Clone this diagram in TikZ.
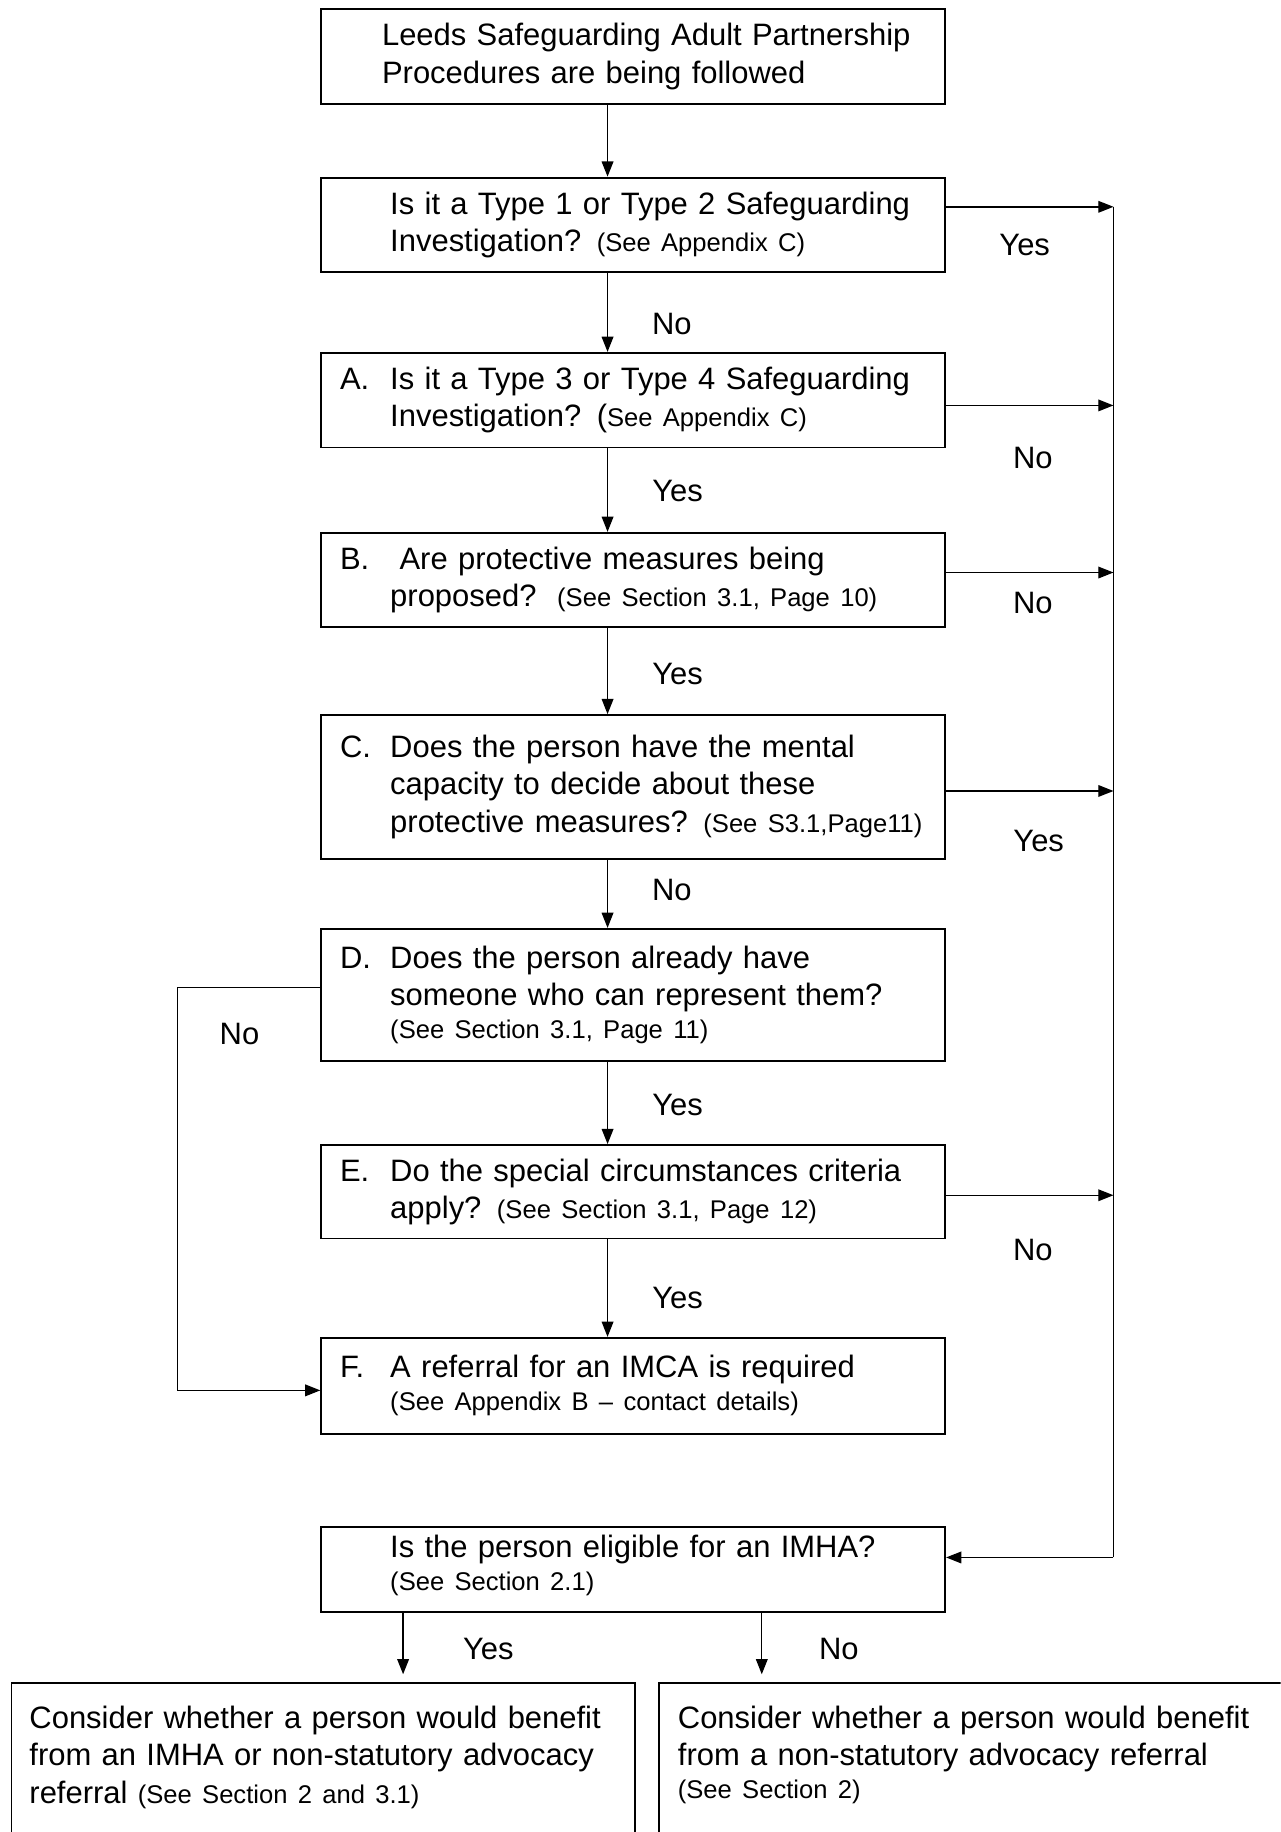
\documentclass[tikz,border=0pt]{standalone}
\usepackage{fontspec}
\setmainfont{Liberation Sans}
\usetikzlibrary{arrows.meta}
\newcommand\ind{\hspace*{57pt}}
\newcommand\lab[1]{\hspace*{14pt}\makebox[43pt][l]{#1}}
\newcommand\sm[1]{{\fontsize{21.9}{32}\selectfont #1}}
\begin{document}
\begin{tikzpicture}[x=1pt,y=-1pt,
  big/.style={font=\fontsize{26.5}{32}\selectfont},
  box/.style={big, draw, line width=1.6pt, rectangle, minimum width=534pt,
    text width=530pt, inner xsep=2pt, inner ysep=0pt, align=left},
  arr/.style={line width=1.2pt, -{Triangle[length=13pt,width=10pt]}},
  ln/.style={line width=1.2pt},
  lbl/.style={big, inner sep=0pt}]
\useasboundingbox (0,0) rectangle (1096,1568);

\node[box, minimum height=81pt] (top) at (542,48.5)
  {\hspace*{50pt}Leeds Safeguarding Adult Partnership\\ \hspace*{50pt}Procedures are being followed};
\node[box, minimum height=81pt] (q1) at (542,192.5)
  {\ind Is it a Type 1 or Type 2 Safeguarding\\ \ind Investigation? \sm{(See Appendix C)}};
\node[box, minimum height=81pt] (qa) at (542,342.5)
  {\lab{A.}Is it a Type 3 or Type 4 Safeguarding\\ \ind Investigation? (\sm{See Appendix C)}};
\node[box, minimum height=81pt] (qb) at (542,496.5)
  {\lab{B.}\hspace*{8pt}Are protective measures being\\ \ind proposed?\ \ \sm{(See Section 3.1, Page 10)}};
\node[box, minimum height=123pt] (qc) at (542,673.5)
  {\lab{C.}Does the person have the mental\\ \ind capacity to decide about these\\ \ind protective measures? \sm{(See S3.1,Page11)}};
\node[box, minimum height=113pt] (qd) at (542,851.5)
  {\lab{D.}Does the person already have\\ \ind someone who can represent them?\\[-4pt] \ind\sm{(See Section 3.1, Page 11)}};
\node[box, minimum height=80pt] (qe) at (542,1020)
  {\lab{E.}Do the special circumstances criteria\\ \ind apply? \sm{(See Section 3.1, Page 12)}};
\node[box, minimum height=82pt] (qf) at (542,1186)
  {\lab{F.}A referral for an IMCA is required\\[-4pt] \ind\sm{(See Appendix B -- contact details)}};
\node[box, minimum height=73pt] (qi) at (542,1343.5)
  {\ind Is the person eligible for an IMHA?\\[-4pt] \ind\sm{(See Section 2.1)}\\[-20pt]\mbox{}};

\begin{scope}
\clip (0,0) rectangle (1096,1568);
\node[draw, line width=1.6pt, minimum width=534pt, minimum height=250pt, anchor=north west, inner sep=0pt] (bl) at (9,1440) {};
\node[draw, line width=1.6pt, minimum width=560pt, minimum height=250pt, anchor=north west, inner sep=0pt] (br) at (563,1440) {};
\end{scope}
\node[big, anchor=north west, text width=520pt, align=left, inner sep=0pt] (tl) at (25,1460)
  {Consider whether a person would benefit\\ from an IMHA or non-statutory advocacy\\ referral \sm{(See Section 2 and 3.1)}};
\node[big, anchor=north west, text width=520pt, align=left, inner sep=0pt] (tr) at (580,1460)
  {Consider whether a person would benefit\\ from a non-statutory advocacy referral\\[-4pt] \sm{(See Section 2)}};

% vertical main arrows
\coordinate (cx) at (520,0);
\draw[arr] (top.south -| cx) -- (q1.north -| cx);
\draw[arr] (q1.south -| cx) -- (qa.north -| cx);
\draw[arr] (qa.south -| cx) -- (qb.north -| cx);
\draw[arr] (qb.south -| cx) -- (qc.north -| cx);
\draw[arr] (qc.south -| cx) -- (qd.north -| cx);
\draw[arr] (qd.south -| cx) -- (qe.north -| cx);
\draw[arr] (qe.south -| cx) -- (qf.north -| cx);

% right trunk
\coordinate (r1) at (953,177);
\coordinate (r2) at (953,347);
\coordinate (r3) at (953,490);
\coordinate (r4) at (953,677);
\coordinate (r5) at (953,1023);
\coordinate (r6) at (953,1333);
\draw[arr] (q1.east |- r1) -- (r1);
\draw[arr] (qa.east |- r2) -- (r2);
\draw[arr] (qb.east |- r3) -- (r3);
\draw[arr] (qc.east |- r4) -- (r4);
\draw[arr] (qe.east |- r5) -- (r5);
\draw[ln] (r1) -- (r6);
\draw[arr] (r6) -- (qi.east |- r6);

% left loop
\coordinate (l1) at (152,845);
\coordinate (l2) at (152,1190);
\draw[arr] (qd.west |- l1) -- (l1) -- (l2) -- (qf.west |- l2);

% IMHA outputs
\coordinate (ya) at (345,1433);
\coordinate (na) at (652,1433);
\draw[arr] (qi.south -| ya) -- (ya);
\draw[arr] (qi.south -| na) -- (na);

% labels
\node[lbl] (y1) at (877,210) {Yes};
\node[lbl] (n1) at (575,277) {No};
\node[lbl] (n2) at (884,392) {No};
\node[lbl] (y2) at (580,420) {Yes};
\node[lbl] (n3) at (884,516) {No};
\node[lbl] (y3) at (580,577) {Yes};
\node[lbl] (y4) at (889,720) {Yes};
\node[lbl] (n4) at (575,762) {No};
\node[lbl] (n5) at (205,885) {No};
\node[lbl] (y5) at (580,946) {Yes};
\node[lbl] (n6) at (884,1070) {No};
\node[lbl] (y6) at (580,1111) {Yes};
\node[lbl] (y7) at (418,1411) {Yes};
\node[lbl] (n7) at (718,1411) {No};
\end{tikzpicture}
\end{document}
